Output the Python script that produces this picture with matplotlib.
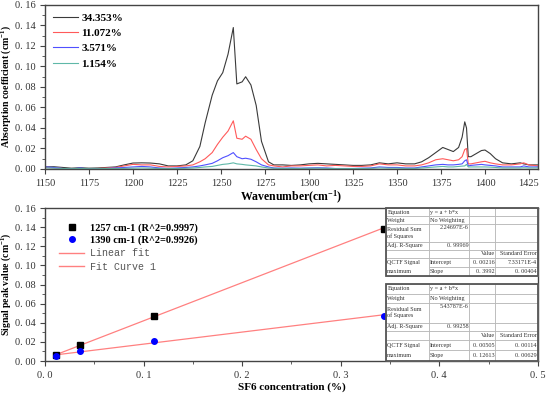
import matplotlib
matplotlib.use("Agg")
import matplotlib.pyplot as plt
from matplotlib.lines import Line2D
from matplotlib.patches import Rectangle
from matplotlib.ticker import FuncFormatter, MultipleLocator

plt.rcParams['font.family'] = ['Liberation Serif', 'DejaVu Serif']
plt.rcParams['mathtext.fontset'] = 'custom'
plt.rcParams['mathtext.bf'] = 'Liberation Serif:bold'
plt.rcParams['mathtext.rm'] = 'Liberation Serif'
plt.rcParams['mathtext.default'] = 'bf'

# ---- spectra (upper panel) ----
wavenumber = [1150, 1155, 1160, 1165, 1170, 1175, 1180, 1185, 1190, 1195,
              1200, 1205, 1210, 1215, 1220, 1225, 1230, 1234, 1238, 1241,
              1245, 1248, 1251, 1254, 1257, 1259, 1262, 1264, 1267, 1270,
              1273, 1277, 1280, 1285, 1290, 1295, 1300, 1305, 1310, 1315,
              1320, 1325, 1330, 1335, 1340, 1345, 1350, 1355, 1360, 1364,
              1368, 1372, 1376, 1379, 1382, 1385, 1387, 1388.5, 1389.5, 1390.5,
              1392, 1395, 1398, 1400, 1403, 1406, 1410, 1415, 1420, 1422,
              1425, 1430]
abs_34 = [0.002, 0.0022, 0.0015, 0.0008, 0.0012, 0.0008, 0.001, 0.0015, 0.002, 0.004,
          0.0058, 0.006, 0.0058, 0.005, 0.003, 0.003, 0.004, 0.008, 0.022, 0.045,
          0.072, 0.086, 0.094, 0.112, 0.138, 0.083, 0.085, 0.090, 0.082, 0.062,
          0.027, 0.007, 0.004, 0.004, 0.0035, 0.004, 0.005, 0.0055, 0.005, 0.0045,
          0.004, 0.0035, 0.0035, 0.004, 0.006, 0.005, 0.006, 0.005, 0.005, 0.007,
          0.011, 0.016, 0.021, 0.019, 0.017, 0.021, 0.031, 0.046, 0.040, 0.012,
          0.012, 0.015, 0.018, 0.0185, 0.015, 0.010, 0.006, 0.005, 0.006, 0.005,
          0.004, 0.004]
abs_11 = [0.0015, 0.001, 0.0005, 0.0, 0.0005, 0.0002, 0.0005, 0.001, 0.0015, 0.003,
          0.0045, 0.004, 0.004, 0.0025, 0.002, 0.0025, 0.003, 0.004, 0.007, 0.010,
          0.016, 0.024, 0.031, 0.037, 0.047, 0.030, 0.029, 0.032, 0.029, 0.019,
          0.010, 0.004, 0.003, 0.002, 0.003, 0.003, 0.0035, 0.004, 0.003, 0.0035,
          0.003, 0.0025, 0.0025, 0.003, 0.005, 0.004, 0.004, 0.003, 0.003, 0.004,
          0.006, 0.009, 0.010, 0.009, 0.008, 0.009, 0.012, 0.019, 0.020, 0.005,
          0.005, 0.006, 0.007, 0.0075, 0.006, 0.005, 0.004, 0.004, 0.005, 0.006,
          0.004, 0.003]
abs_3 = [0.002, 0.0015, 0.0005, 0.0, 0.001, 0.0, 0.0, 0.0005, 0.001, 0.0015,
         0.002, 0.0025, 0.002, 0.001, 0.0005, 0.001, 0.0015, 0.002, 0.003, 0.004,
         0.0055, 0.008, 0.011, 0.013, 0.016, 0.012, 0.010, 0.0105, 0.0095, 0.007,
         0.004, 0.002, 0.001, 0.0007, 0.001, 0.0008, 0.001, 0.0012, 0.001, 0.0005,
         0.0005, 0.0005, 0.0008, 0.001, 0.002, 0.0015, 0.0015, 0.001, 0.001, 0.002,
         0.003, 0.004, 0.0045, 0.004, 0.004, 0.0045, 0.005, 0.008, 0.009, 0.003,
         0.0035, 0.004, 0.0045, 0.004, 0.0035, 0.003, 0.002, 0.002, 0.002, 0.003,
         0.002, 0.002]
abs_1 = [0.001, 0.0008, 0.0005, 0.0003, 0.0005, 0.0003, 0.0003, 0.0005, 0.0005, 0.0006,
         0.0008, 0.001, 0.0008, 0.0005, 0.0004, 0.0005, 0.0007, 0.001, 0.0015, 0.002,
         0.0025, 0.0035, 0.0045, 0.005, 0.006, 0.005, 0.0045, 0.004, 0.0035, 0.003,
         0.002, 0.001, 0.0007, 0.0005, 0.0006, 0.0005, 0.0007, 0.0008, 0.0006, 0.0004,
         0.0004, 0.0004, 0.0005, 0.0006, 0.001, 0.0008, 0.0008, 0.0006, 0.0006, 0.001,
         0.0015, 0.002, 0.0025, 0.002, 0.002, 0.0025, 0.0028, 0.003, 0.0045, 0.002,
         0.002, 0.002, 0.002, 0.002, 0.0018, 0.0015, 0.001, 0.001, 0.001, 0.0012,
         0.001, 0.001]
spec_labels = ["34.353%", "11.072%", "3.571%", "1.154%"]
spec_colors = ["#3a3a3a", "#ff5a5a", "#5050ff", "#5fb8a8"]

# ---- calibration (lower panel) ----
conc = [0.01154, 0.03571, 0.11072, 0.34353]
peak_1257 = [0.0065, 0.0165, 0.0475, 0.1380]
peak_1390 = [0.0055, 0.0100, 0.0210, 0.0470]
fit_1257 = [0.00216, 0.3992]   # intercept, slope
fit_1390 = [0.00505, 0.12613]

table_1257 = [["Equation", "y = a + b*x", "", ""],
              ["Weight", "No Weighting", "", ""],
              ["Residual Sum\nof Squares", "2.24697E-6\n\n", "", ""],
              ["Adj. R-Square", "0. 99969", "", ""],
              ["", "", "Value", "Standard Error"],
              ["QCTF Signal", "Intercept", "0. 00216", "7.33171E-4"],
              ["maximum", "Slope", "0. 3992", "0. 00404"]]
table_1390 = [["Equation", "y = a + b*x", "", ""],
              ["Weight", "No Weighting", "", ""],
              ["Residual Sum\nof Squares", "5.43787E-6\n\n", "", ""],
              ["Adj. R-Square", "0. 99258", "", ""],
              ["", "", "Value", "Standard Error"],
              ["QCTF Signal", "Intercept", "0. 00505", "0. 00114"],
              ["maximum", "Slope", "0. 12613", "0. 00629"]]


def fmt(decimals):
    return FuncFormatter(lambda v, p: f"{v:.{decimals}f}".replace(".", ". "))


def style_axes(ax):
    for s in ax.spines.values():
        s.set_color("#444444")
        s.set_linewidth(1.0)
    ax.tick_params(which="both", direction="out", colors="#444444",
                   labelcolor="#333333", labelsize=7.5, top=False, right=False)
    ax.tick_params(which="major", length=3.5, width=0.8)
    ax.tick_params(which="minor", length=2, width=0.6)


def draw_table(ax, rows, bbox):
    col_w = [128, 122, 78, 127]
    row_h = [25, 24, 53, 23, 24, 27, 28]
    tab = ax.table(cellText=rows, cellLoc="left", bbox=bbox, zorder=5)
    tab.auto_set_font_size(False)
    tab.set_fontsize(4.4)
    for (r, c), cell in tab.get_celld().items():
        cell.set_width(col_w[c])
        cell.set_height(row_h[r])
        cell.set_edgecolor("#b0b0b0")
        cell.set_linewidth(0.5)
        cell.PAD = 0.03
        txt = cell.get_text()
        txt.set_fontfamily("Liberation Serif")
        txt.set_color("#333333")
        if (c == 1 and r in (2, 3)) or c >= 2:
            txt.set_horizontalalignment("right")
        if c == 0 and r == 5:
            cell.visible_edges = "LTR"
        if c == 0 and r == 6:
            cell.visible_edges = "LBR"
    ax.add_patch(Rectangle((bbox[0], bbox[1]), bbox[2], bbox[3],
                           transform=ax.transAxes, fill=False,
                           edgecolor="#555555", linewidth=1.3, zorder=6,
                           clip_on=False))


fig = plt.figure(figsize=(5.5, 3.93), dpi=100)

# upper panel
ax1 = fig.add_axes([0.0818, 0.570, 0.896, 0.4173])
for vals, lab, col in zip([abs_34, abs_11, abs_3, abs_1], spec_labels, spec_colors):
    ax1.plot(wavenumber, vals, color=col, linewidth=0.8, label=lab)
ax1.set_xlim(1150, 1430)
ax1.set_ylim(0, 0.16)
ax1.xaxis.set_major_locator(MultipleLocator(25))
ax1.yaxis.set_major_locator(MultipleLocator(0.02))
ax1.yaxis.set_minor_locator(MultipleLocator(0.01))
ax1.yaxis.set_major_formatter(fmt(2))
style_axes(ax1)
ax1.set_xlabel("Wavenumber(cm$^{-1}$)", fontsize=8.5, fontweight="bold", labelpad=1)
ax1.set_ylabel("Absorption coefficient (cm$^{-1}$)", fontsize=7,
               fontweight="bold", labelpad=1)
ax1.legend(loc="upper left", frameon=False, handlelength=2.25, handletextpad=0.3,
           labelspacing=0.5, borderaxespad=0.3,
           prop={"family": "Liberation Serif", "weight": "bold", "size": 8})

# lower panel
ax2 = fig.add_axes([0.0818, 0.0814, 0.896, 0.389])
xs = [conc[0], conc[-1]]
ax2.plot(xs, [fit_1257[0] + fit_1257[1] * x for x in xs], color="#ff8080", lw=0.9)
ax2.plot(xs, [fit_1390[0] + fit_1390[1] * x for x in xs], color="#ff8080", lw=0.9)
ax2.plot(conc, peak_1257, "s", color="black", ms=4, zorder=4)
ax2.plot(conc, peak_1390, "o", color="blue", ms=4, zorder=4)
ax2.set_xlim(0, 0.5)
ax2.set_ylim(0, 0.16)
ax2.xaxis.set_major_locator(MultipleLocator(0.1))
ax2.xaxis.set_minor_locator(MultipleLocator(0.05))
ax2.yaxis.set_major_locator(MultipleLocator(0.02))
ax2.yaxis.set_minor_locator(MultipleLocator(0.01))
ax2.xaxis.set_major_formatter(fmt(1))
ax2.yaxis.set_major_formatter(fmt(2))
style_axes(ax2)
ax2.set_xlabel("SF6 concentration (%)", fontsize=8, fontweight="bold", labelpad=2)
ax2.set_ylabel("Signal peak value (cm$^{-1}$)", fontsize=7, fontweight="bold",
               labelpad=1)

handles = [Line2D([], [], ls="none", marker="s", color="black", ms=4),
           Line2D([], [], ls="none", marker="o", color="blue", ms=4),
           Line2D([], [], color="#ff8080", lw=1),
           Line2D([], [], color="#ff8080", lw=1)]
labels = ["1257 cm-1 (R^2=0.9997)", "1390 cm-1 (R^2=0.9926)",
          "Linear fit", "Fit Curve 1"]
leg = ax2.legend(handles, labels, loc="upper left", bbox_to_anchor=(0.02, 0.93),
                 frameon=False, handlelength=2.4, handletextpad=0.6,
                 labelspacing=0.3, borderaxespad=0,
                 prop={"family": "Liberation Serif", "weight": "bold", "size": 7.5})
for t in leg.get_texts()[2:]:
    t.set_fontfamily("Liberation Mono")
    t.set_fontweight("normal")
    t.set_color("#555555")
    t.set_fontsize(7.2)

draw_table(ax2, table_1257, [0.692, 0.556, 0.308, 0.444])
draw_table(ax2, table_1390, [0.692, 0.0, 0.308, 0.503])

fig.savefig("out.png", dpi=100)
